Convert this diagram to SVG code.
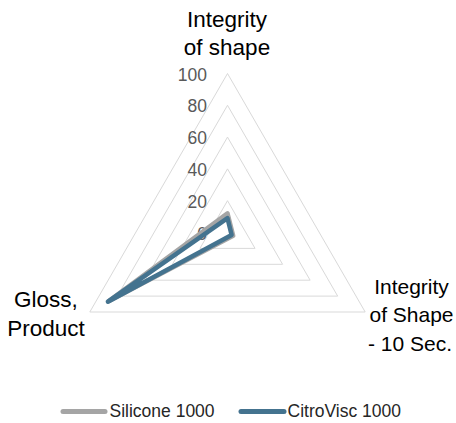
<svg xmlns="http://www.w3.org/2000/svg" width="456" height="423" viewBox="0 0 456 423">
<style>
.grid{fill:none;stroke:#D9D9D9;stroke-width:1}
.cat{font-family:"Liberation Sans",Arial,sans-serif;font-size:22.5px;fill:#000;text-anchor:middle}
.catr{font-size:21px}
.tick{font-family:"Liberation Sans",Arial,sans-serif;font-size:17.5px;fill:#595959;text-anchor:end}
.leg{font-family:"Liberation Sans",Arial,sans-serif;font-size:17.5px;fill:#262626}
.s1{fill:none;stroke:#A5A5A5;stroke-width:4.5;stroke-linejoin:round;stroke-linecap:round}
.s2{fill:none;stroke:#44738F;stroke-width:4.5;stroke-linejoin:round;stroke-linecap:round}
</style>
<rect width="456" height="423" fill="#FFFFFF"/>
<g id="grid">
<polygon class="grid" points="227.5,200.7 255.04,248.4 199.96,248.4"/>
<polygon class="grid" points="227.5,168.9 282.58,264.3 172.42,264.3"/>
<polygon class="grid" points="227.5,137.1 310.12,280.2 144.88,280.2"/>
<polygon class="grid" points="227.5,105.3 337.66,296.1 117.34,296.1"/>
<polygon class="grid" points="227.5,73.5 365.19,312 89.81,312"/>
</g>
<g id="ticks">
<text class="tick" x="207" y="80.5">100</text>
<text class="tick" x="207" y="112.3">80</text>
<text class="tick" x="207" y="144.1">60</text>
<text class="tick" x="207" y="175.9">40</text>
<text class="tick" x="207" y="207.7">20</text>
<text class="tick" x="207" y="239.5">0</text>
</g>
<g id="series">
<polygon id="silicone" class="s1" points="227.5,213.4 233.2,235.8 109.1,300.9"/>
<polygon id="citrovisc" class="s2" points="227.5,218.2 231.6,234.9 107.9,301.7"/>
</g>
<g id="cat-top"><text class="cat" x="227" y="26.7">Integrity</text><text class="cat" x="227" y="55">of shape</text></g>
<g id="cat-left"><text class="cat" x="46" y="306.7">Gloss,</text><text class="cat" x="46" y="336">Product</text></g>
<g id="cat-right"><text class="cat catr" x="411.5" y="293.5">Integrity</text><text class="cat catr" x="411.5" y="322">of Shape</text><text class="cat catr" x="410" y="350.5">- 10 Sec.</text></g>
<g id="legend">
<line x1="63" y1="411.5" x2="105" y2="411.5" stroke="#A5A5A5" stroke-width="5" stroke-linecap="round"/>
<text class="leg" x="109.5" y="417.3">Silicone 1000</text>
<line x1="241" y1="411.5" x2="284" y2="411.5" stroke="#44738F" stroke-width="5" stroke-linecap="round"/>
<text class="leg" x="287.5" y="417.3">CitroVisc 1000</text>
</g>
</svg>
